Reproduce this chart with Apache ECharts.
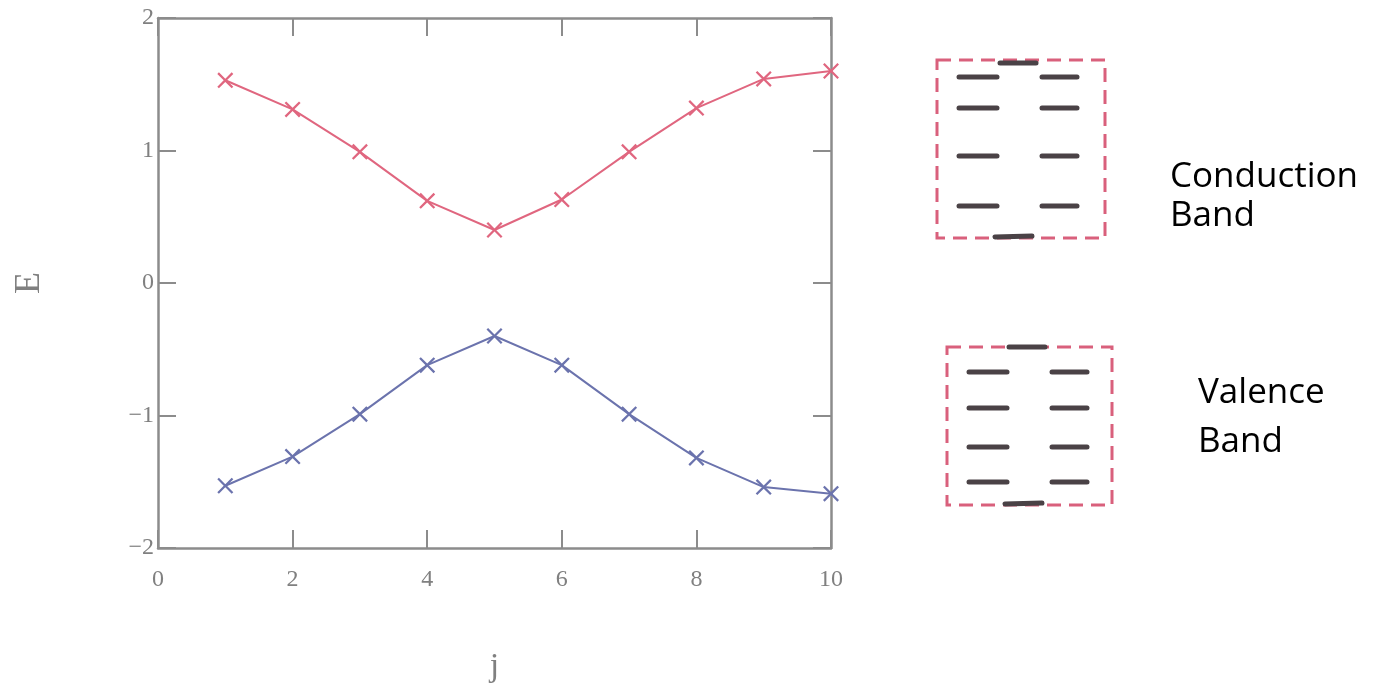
<!DOCTYPE html>
<html>
<head>
<meta charset="utf-8">
<script src="https://cdn.jsdelivr.net/npm/echarts@6/dist/echarts.min.js"></script>
<style>html,body{margin:0;padding:0;background:#fff}#c{width:1397px;height:697px}</style>
</head>
<body>
<div id="c"></div>
<script>
const jValues = [1, 2, 3, 4, 5, 6, 7, 8, 9, 10];
const conduction = [1.53, 1.31, 0.99, 0.62, 0.40, 0.63, 0.99, 1.32, 1.54, 1.60];
const valence = [-1.53, -1.31, -0.99, -0.62, -0.40, -0.62, -0.99, -1.32, -1.54, -1.59];
const xTickLabels = ['0', '2', '4', '6', '8', '10'];
const yTickLabels = {'2': '2', '1': '1', '0': '0', '-1': '\u22121', '-2': '\u22122'};

const chart = echarts.init(document.getElementById('c'));
const axisColor = '#8c8c8c';
const labelFont = '"Liberation Serif", "DejaVu Serif", serif';
const textFont = '35px "Open Sans", "Liberation Sans", sans-serif';
const xMark = 'path://M0,1L1,0L5,4L9,0L10,1L6,5L10,9L9,10L5,6L1,10L0,9L4,5Z';

function pts(arr){ return jValues.map((j,i)=>[j, arr[i]]); }

function boxGraphics(x, y, w, h, rows, extraTop) {
  const g = [];
  g.push({type:'rect', shape:{x:x, y:y, width:w, height:h},
    style:{fill:'none', stroke:'#d9607c', lineWidth:3, lineDash:[14,8]}});
  rows.forEach(ry => {
    g.push({type:'line', shape:{x1:x+22, y1:ry, x2:x+60, y2:ry}, style:{stroke:'#4a4246', lineWidth:5, lineCap:'round'}});
    g.push({type:'line', shape:{x1:x+105, y1:ry, x2:x+140, y2:ry}, style:{stroke:'#4a4246', lineWidth:5, lineCap:'round'}});
  });
  g.push({type:'line', shape:{x1:x+58, y1:y+h-1, x2:x+95, y2:y+h-2}, style:{stroke:'#4a4246', lineWidth:5, lineCap:'round'}});
  if (extraTop) g.push({type:'line', shape:{x1:x+62, y1:y, x2:x+98, y2:y}, style:{stroke:'#4a4246', lineWidth:5, lineCap:'round'}});
  else g.push({type:'line', shape:{x1:x+63, y1:y+3, x2:x+99, y2:y+3}, style:{stroke:'#4a4246', lineWidth:5, lineCap:'round'}});
  return g;
}

const graphics = [].concat(
  boxGraphics(937, 60, 168, 178, [77, 108, 156, 206], false),
  boxGraphics(947, 347, 165, 158, [372, 408, 447, 482], true),
  [
    {type:'text', left:1170, top:160, style:{text:'Conduction', font:textFont, fill:'#000'}},
    {type:'text', left:1170, top:199, style:{text:'Band', font:textFont, fill:'#000'}},
    {type:'text', left:1198, top:376, style:{text:'Valence', font:textFont, fill:'#000'}},
    {type:'text', left:1198, top:425, style:{text:'Band', font:textFont, fill:'#000'}}
  ]
);

const axisLine = {show:true, onZero:false, lineStyle:{color:axisColor, width:2.5}};
const axisTick = {show:true, inside:true, length:18, lineStyle:{color:axisColor, width:2}};

chart.setOption({
  animation:false,
  backgroundColor:'#fff',
  grid:{left:158, top:18, width:673, height:530, containLabel:false},
  xAxis:[
    {type:'value', min:0, max:10, interval:2, position:'bottom',
     axisLine:axisLine, axisTick:axisTick, splitLine:{show:false},
     axisLabel:{color:'#808080', fontFamily:labelFont, fontSize:24, margin:20,
       formatter:v=>xTickLabels[v/2]},
     name:'j', nameLocation:'middle', nameGap:102,
     nameTextStyle:{color:'#808080', fontFamily:labelFont, fontSize:34}},
    {type:'value', min:0, max:10, interval:2, position:'top',
     axisLine:axisLine, axisTick:axisTick, splitLine:{show:false}, axisLabel:{show:false}}
  ],
  yAxis:[
    {type:'value', min:-2, max:2, interval:1, position:'left',
     axisLine:axisLine, axisTick:axisTick, splitLine:{show:false},
     axisLabel:{color:'#808080', fontFamily:labelFont, fontSize:24, margin:4,
       formatter:v=>yTickLabels[String(v)]},
     name:'E', nameLocation:'middle', nameGap:110, nameRotate:90,
     nameTextStyle:{color:'#808080', fontFamily:labelFont, fontSize:36}},
    {type:'value', min:-2, max:2, interval:1, position:'right',
     axisLine:axisLine, axisTick:axisTick, splitLine:{show:false}, axisLabel:{show:false}}
  ],
  series:[
    {type:'line', data:pts(conduction), symbol:xMark, symbolSize:16, showAllSymbol:true,
     lineStyle:{color:'#e0667f', width:2}, itemStyle:{color:'#e0667f'}},
    {type:'line', data:pts(valence), symbol:xMark, symbolSize:16, showAllSymbol:true,
     lineStyle:{color:'#6b73ad', width:2}, itemStyle:{color:'#6b73ad'}}
  ],
  graphic:graphics
});
</script>
</body>
</html>
